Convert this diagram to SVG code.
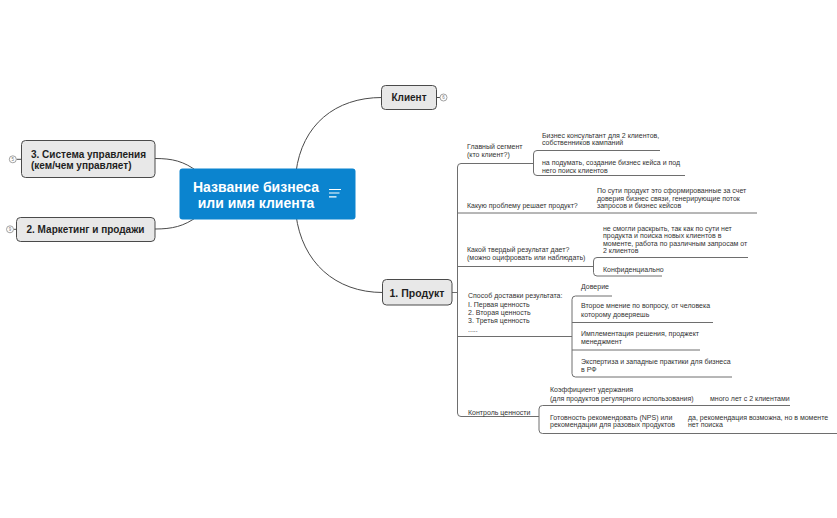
<svg xmlns="http://www.w3.org/2000/svg" width="837" height="518" viewBox="0 0 837 518">
<style>
.bg{fill:#ffffff}
.ln{fill:none;stroke:#6e6e6e;stroke-width:1}
.cn{fill:none;stroke:#4a4a4a;stroke-width:1}
.box{fill:#e8e8e8;stroke:#4a4a4a;stroke-width:1}
.bt{font-family:"Liberation Sans",Arial,sans-serif;font-weight:bold;font-size:10px;fill:#1f1f1f}
.t{font-family:"Liberation Sans",Arial,sans-serif;font-size:7px;fill:#333333}
.badge{fill:#ffffff;stroke:#8a8a8a;stroke-width:0.8}
.bn{font-family:"Liberation Sans",Arial,sans-serif;font-size:4.5px;fill:#777777;text-anchor:middle}
.ct{font-family:"Liberation Sans",Arial,sans-serif;font-weight:bold;font-size:14px;fill:#ffffff;text-anchor:middle}
</style>
<rect class="bg" x="0" y="0" width="837" height="518"/>
<g id="connectors">
<path class="cn" d="M296,172 C302,125 335,97.5 382,97.5"/>
<path class="cn" d="M296,215 C302,262 335,292.5 383,292.5"/>
<path class="cn" d="M155,158.5 C172,158.5 184,161 198,172"/>
<path class="cn" d="M155,229 C172,229 184,226.5 198,216"/>
<path class="cn" d="M437,97.5 H440"/>
<path class="cn" d="M16.5,159.3 H22"/>
<path class="cn" d="M13.5,229.3 H17"/>
<path class="ln" d="M452,292.5 H457.5"/>
<path class="ln" d="M533,163.5 H461 Q457.5,163.5 457.5,167 V413 Q457.5,416.5 461,416.5 H539"/>
<path class="ln" d="M457.5,213 H757"/>
<path class="ln" d="M457.5,266.5 H593.5"/>
<path class="ln" d="M457.5,336.5 H572"/>
<path class="ln" d="M660,150.5 H537 Q533.5,150.5 533.5,154 V172 Q533.5,175.5 537,175.5 H685"/>
<path class="ln" d="M748,257.5 H597 Q593.5,257.5 593.5,261 V272.5 Q593.5,276 597,276 H662"/>
<path class="ln" d="M612,296 H575.5 Q572,296 572,299.5 V373.5 Q572,377 575.5,377 H732"/>
<path class="ln" d="M572,322.5 H713"/>
<path class="ln" d="M572,350 H700"/>
<path class="ln" d="M790,405.5 H542.5 Q539,405.5 539,409 V430 Q539,433.5 542.5,433.5 H837"/>
</g>
<g id="center">
<rect x="179.5" y="168.5" width="176" height="51" rx="3" fill="#0b84cf"/>
<text class="ct" x="256" y="192">Название бизнеса</text>
<text class="ct" x="256" y="208">или имя клиента</text>
<path d="M329,189.5 H341 M329,193 H339.5 M329,196.8 H336.5" stroke="#ffffff" stroke-width="1.2" fill="none"/>
</g>
<g id="client">
<rect class="box" x="381.5" y="85.5" width="55" height="24" rx="4"/>
<text class="bt" x="409" y="101" text-anchor="middle">Клиент</text>
<circle class="badge" cx="443.5" cy="97.5" r="3.5"/>
<text class="bn" x="443.5" y="99.1">6</text>
</g>
<g id="system">
<rect class="box" x="21.5" y="140.5" width="133.5" height="37" rx="4"/>
<text class="bt" x="31" y="157.5">3. Система управления</text>
<text class="bt" x="31" y="168.5">(кем/чем управляет)</text>
<circle class="badge" cx="12.8" cy="159.3" r="3.5"/>
<text class="bn" x="12.8" y="160.9">5</text>
</g>
<g id="marketing">
<rect class="box" x="16.5" y="217.5" width="138.5" height="24" rx="4"/>
<text class="bt" x="26.5" y="233">2. Маркетинг и продажи</text>
<circle class="badge" cx="10" cy="229.3" r="3.5"/>
<text class="bn" x="10" y="230.9">9</text>
</g>
<g id="product">
<rect class="box" x="382.5" y="279.5" width="69.5" height="25.5" rx="4"/>
<text class="bt" x="417" y="296.5" text-anchor="middle" style="font-size:10.5px">1. Продукт</text>
</g>
<g id="segment">
<text class="t" x="467" y="149">Главный сегмент</text>
<text class="t" x="467" y="157.3">(кто клиент?)</text>
</g>
<g id="segment-a">
<text class="t" x="542" y="137.5">Бизнес консультант для 2 клиентов,</text>
<text class="t" x="542" y="145.2">собственников кампаний</text>
</g>
<g id="segment-b">
<text class="t" x="542" y="164.6">на подумать, создание бизнес кейса и под</text>
<text class="t" x="542" y="173">него поиск клиентов</text>
</g>
<g id="problem">
<text class="t" x="467" y="208.3">Какую проблему решает продукт?</text>
</g>
<g id="problem-a">
<text class="t" x="597" y="193">По сути продукт это сформированные за счет</text>
<text class="t" x="597" y="200.6">доверия бизнес связи, генерирующие поток</text>
<text class="t" x="597" y="208.2">запросов и бизнес кейсов</text>
</g>
<g id="result">
<text class="t" x="467" y="251.6">Какой твердый результат дает?</text>
<text class="t" x="467" y="259.6">(можно оцифровать или наблюдать)</text>
</g>
<g id="result-a">
<text class="t" x="603" y="230.6">не смогли раскрыть, так как по сути нет</text>
<text class="t" x="603" y="238.1">продукта и поиска новых клиентов в</text>
<text class="t" x="603" y="245.6">моменте, работа по различным запросам от</text>
<text class="t" x="603" y="253.1">2 клиентов</text>
</g>
<g id="result-b">
<text class="t" x="603" y="271.6">Конфиденциально</text>
</g>
<g id="delivery">
<text class="t" x="468" y="298.3">Способ доставки результата:</text>
<text class="t" x="468" y="306.6">I. Первая ценность</text>
<text class="t" x="468" y="315">2. Вторая ценность</text>
<text class="t" x="468" y="323.3">3. Третья ценность</text>
<text class="t" x="468" y="332.3">.....</text>
</g>
<g id="delivery-a">
<text class="t" x="581" y="288.5">Доверие</text>
</g>
<g id="delivery-b">
<text class="t" x="581" y="308.3">Второе мнение по вопросу, от человека</text>
<text class="t" x="581" y="316.6">которому доверяешь</text>
</g>
<g id="delivery-c">
<text class="t" x="581" y="335.6">Имплементация решения, проджект</text>
<text class="t" x="581" y="344">менеджмент</text>
</g>
<g id="delivery-d">
<text class="t" x="581" y="364">Экспертиза и западные практики для бизнеса</text>
<text class="t" x="581" y="371.6">в РФ</text>
</g>
<g id="control">
<text class="t" x="468" y="414.6">Контроль ценности</text>
</g>
<g id="control-a">
<text class="t" x="550" y="392.3">Коэффициент удержания</text>
<text class="t" x="550" y="400.6">(для продуктов регулярного использования)</text>
</g>
<g id="control-a1">
<text class="t" x="710" y="400.6">много лет с 2 клиентами</text>
</g>
<g id="control-b">
<text class="t" x="550" y="419.6">Готовность рекомендовать (NPS) или</text>
<text class="t" x="550" y="427.3">рекомендации для разовых продуктов</text>
</g>
<g id="control-b1">
<text class="t" x="688" y="419.6">да, рекомендация возможна, но в моменте</text>
<text class="t" x="688" y="427.3">нет поиска</text>
</g>
</svg>
